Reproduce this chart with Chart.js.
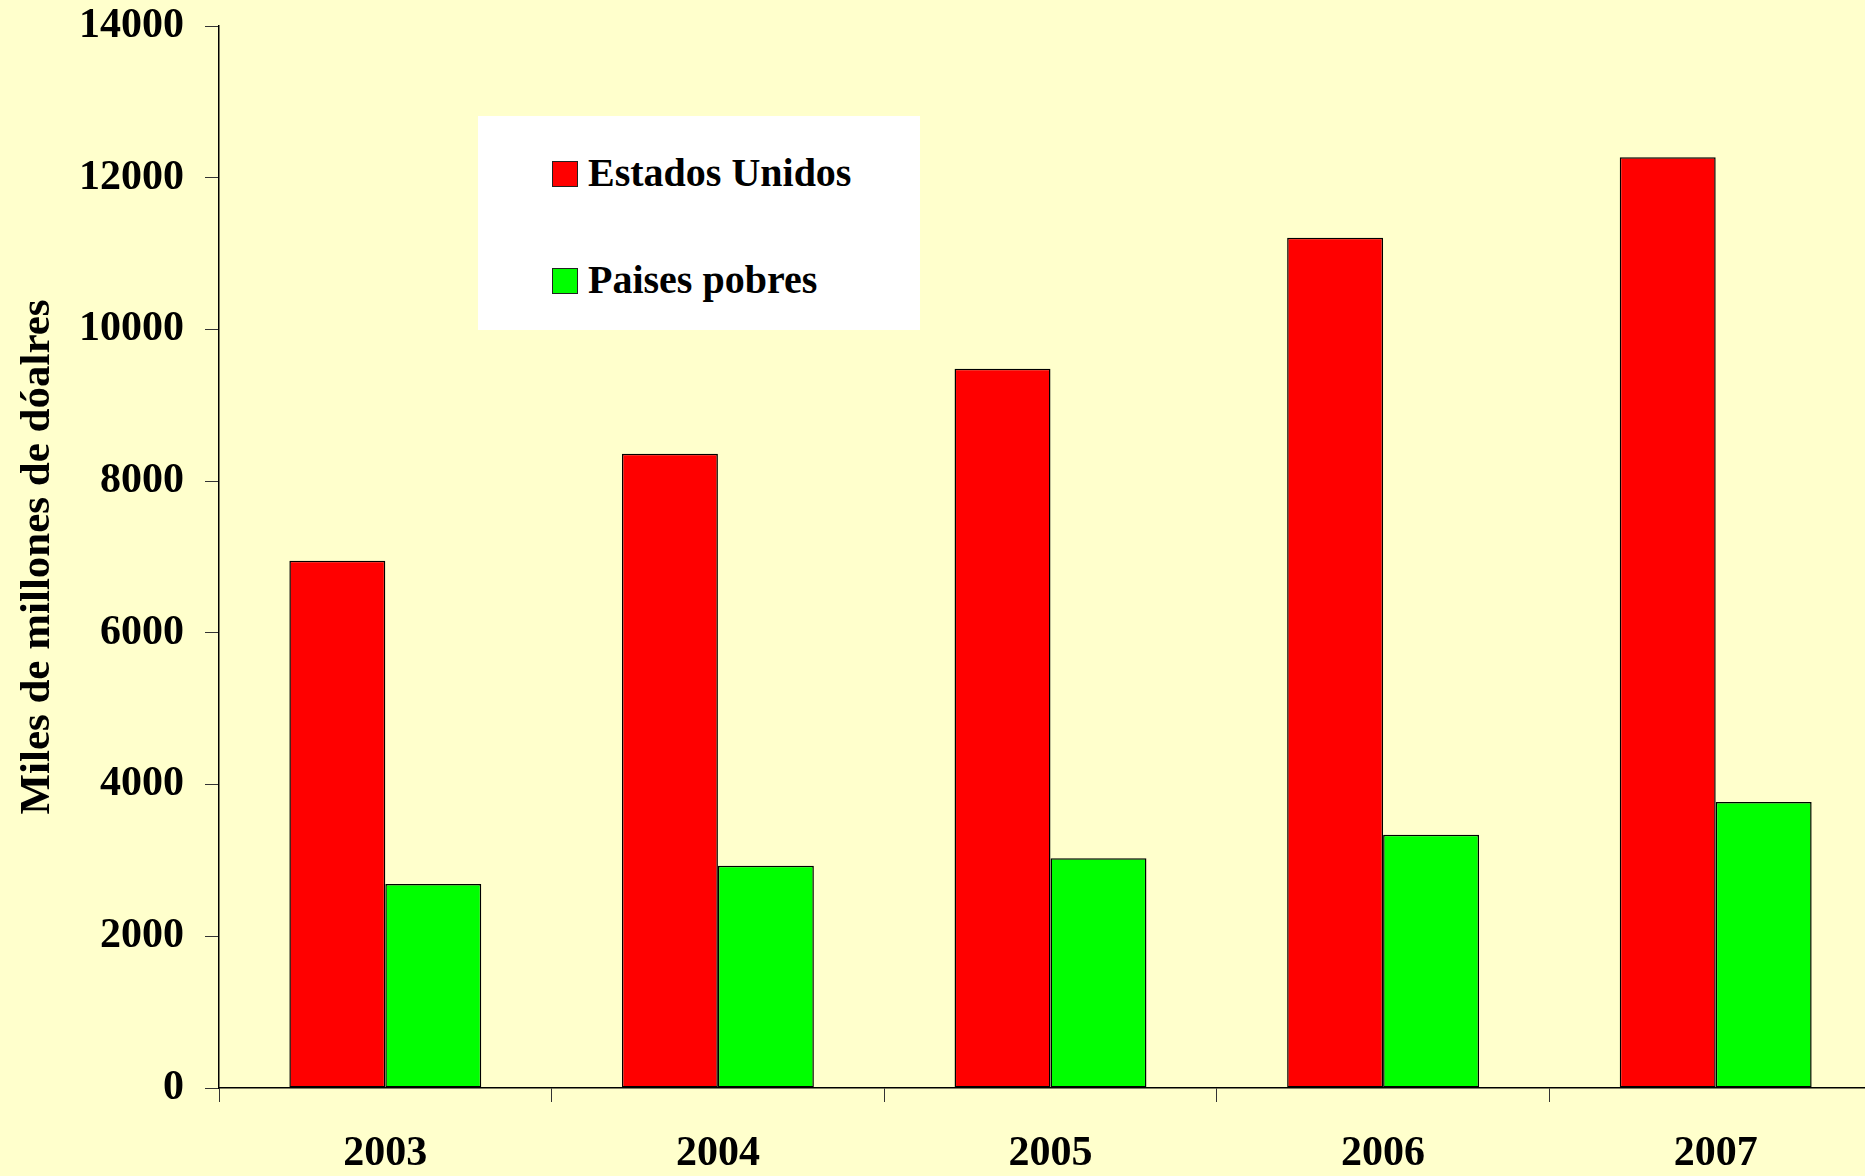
<!DOCTYPE html>
<html>
<head>
<meta charset="utf-8">
<title>Estados Unidos vs Paises pobres</title>
<script src="https://cdn.jsdelivr.net/npm/chart.js@4/dist/chart.umd.min.js"></script>
<style>
    html, body { margin: 0; padding: 0; background: #FFFFCC; overflow: hidden; }
    #contenedor { position: relative; width: 1882px; height: 1176px; }
    #leyenda {
        position: absolute; left: 478px; top: 116px; width: 442px; height: 214px;
        background: #FFFFFF; font-family: "Liberation Serif", "Times New Roman", serif;
        font-weight: bold; font-size: 40px; color: #000;
    }
    .item { position: absolute; left: 74px; height: 46px; line-height: 46px; white-space: nowrap; }
    .cuadro { display: inline-block; width: 24px; height: 24px; border: 1px solid #222; vertical-align: middle; margin-right: 10px; position: relative; top: -3px; }
</style>
</head>
<body>
<div id="contenedor">
    <canvas id="grafica" width="1882" height="1176"></canvas>
    <div id="leyenda"></div>
</div>
<script>
// datos
var anios = ["2003", "2004", "2005", "2006", "2007"];
var estadosUnidos = [6950, 8360, 9480, 11210, 12270];
var paisesPobres = [2690, 2930, 3030, 3340, 3770];
var etiquetas = ["Estados Unidos", "Paises pobres"];
var colores = ["#FF0000", "#00FF00"];
var tituloEjeY = "Miles de millones de dóalres";

var fuente = "Liberation Serif";

var data = {
    labels: anios,
    datasets: [
        {
            label: etiquetas[0],
            data: estadosUnidos,
            backgroundColor: colores[0],
            borderColor: "#000000",
            borderWidth: 1.5,
            borderSkipped: false
        },
        {
            label: etiquetas[1],
            data: paisesPobres,
            backgroundColor: colores[1],
            borderColor: "#000000",
            borderWidth: 1.5,
            borderSkipped: false
        }
    ]
};

var ctx = document.getElementById("grafica").getContext("2d");
var miGrafico = new Chart(ctx, {
    type: "bar",
    data: data,
    options: {
        responsive: false,
        animation: false,
        layout: { padding: { top: 26, left: 0, right: 0, bottom: 0 } },
        datasets: { bar: { categoryPercentage: 0.577, barPercentage: 1 } },
        plugins: {
            legend: { display: false },
            tooltip: { enabled: false }
        },
        scales: {
            x: {
                offset: true,
                grid: { offset: true, drawOnChartArea: false, drawTicks: true, tickLength: 14, color: "#333333", lineWidth: 1 },
                border: { display: true, color: "#000000", width: 1.5 },
                ticks: { color: "#000000", padding: 27, font: { family: fuente, size: 42, weight: "bold" } },
                afterFit: function (escala) { escala.height = 88; }
            },
            y: {
                min: 0,
                max: 14000,
                ticks: {
                    stepSize: 2000,
                    color: "#000000",
                    padding: 21,
                    font: { family: fuente, size: 42, weight: "bold" },
                    // sin separador de miles
                    callback: function (valor) { return String(valor); }
                },
                grid: { drawOnChartArea: false, drawTicks: true, tickLength: 14, color: "#333333", lineWidth: 1 },
                border: { display: true, color: "#000000", width: 1.5 },
                title: {
                    display: true,
                    text: tituloEjeY,
                    color: "#000000",
                    padding: { top: 12, bottom: 0 },
                    font: { family: fuente, size: 43, weight: "bold" }
                },
                afterFit: function (escala) {
                    escala.width = 219;
                    // el area del grafico empieza justo en 14000
                    escala.paddingTop = 0;
                    escala.paddingBottom = 0;
                }
            }
        }
    }
});

// leyenda en html con los mismos datos de la grafica
var leyenda = document.getElementById("leyenda");
var filas = [34, 141];
for (var i = 0; i < miGrafico.data.datasets.length; i++) {
    var ds = miGrafico.data.datasets[i];
    var item = document.createElement("div");
    item.className = "item";
    item.style.top = filas[i] + "px";
    var cuadro = document.createElement("span");
    cuadro.className = "cuadro";
    cuadro.style.background = ds.backgroundColor;
    item.appendChild(cuadro);
    item.appendChild(document.createTextNode(ds.label));
    leyenda.appendChild(item);
}
</script>
</body>
</html>
